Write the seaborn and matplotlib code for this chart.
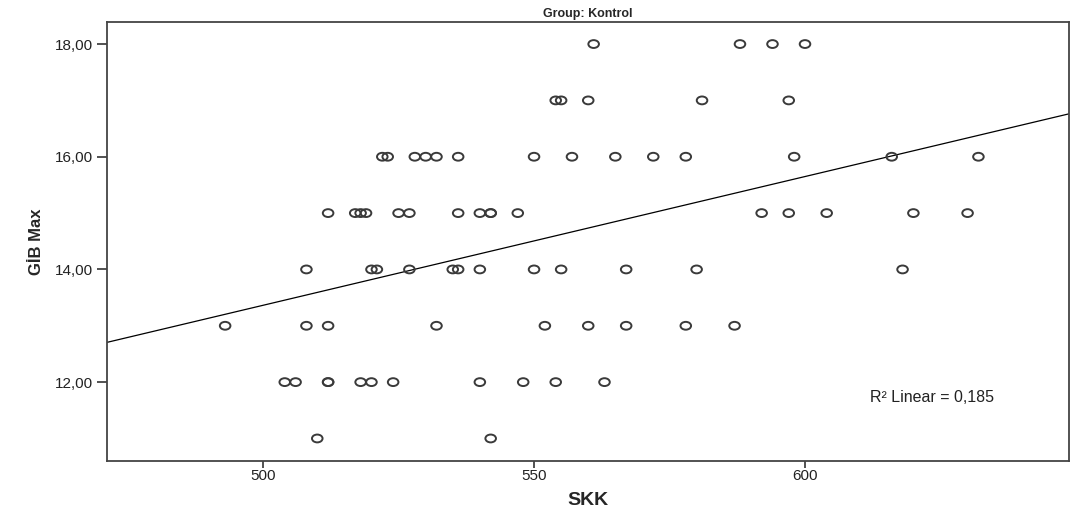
import numpy as np
import pandas as pd
import matplotlib
matplotlib.use("Agg")
import matplotlib.pyplot as plt
import seaborn as sns
from matplotlib.path import Path
from matplotlib.transforms import Affine2D
from matplotlib.ticker import FuncFormatter

# SKK values grouped by their GiB Max level
skk_18 = [561, 588, 594, 600]
skk_17 = [554, 555, 560, 581, 597]
skk_16 = [522, 523, 528, 530, 532, 536, 550, 557, 565, 572, 578, 598, 616, 632]
skk_15 = [512, 517, 518, 519, 525, 527, 536, 540, 542, 542, 547, 592, 597, 604, 620, 630]
skk_14 = [508, 520, 521, 527, 535, 536, 540, 550, 555, 567, 580, 618]
skk_13 = [493, 508, 512, 532, 552, 560, 567, 578, 587]
skk_12 = [504, 506, 512, 512, 518, 520, 524, 540, 548, 554, 563]
skk_11 = [510, 542]

levels = [18, 17, 16, 15, 14, 13, 12, 11]
groups = [skk_18, skk_17, skk_16, skk_15, skk_14, skk_13, skk_12, skk_11]

skk = []
gib = []
for lv, g in zip(levels, groups):
    skk += g
    gib += [lv] * len(g)
df = pd.DataFrame({"SKK": skk, "GiB Max": gib})

x_ticks = [500, 550, 600]
y_ticks = [12, 14, 16, 18]
r2_text = "R² Linear = 0,185"

sns.set_style("white")
plt.rcParams["font.family"] = ["Liberation Sans", "DejaVu Sans"]

fig = plt.figure(figsize=(10.70, 5.17), dpi=100)
ax = fig.add_axes([0.100, 0.1083, 0.899, 0.849])
ax.set_xlim(471.2, 648.7)
ax.set_ylim(10.6, 18.39)

# slightly wide open circle, like the original
ellipse = Path.unit_circle().transformed(Affine2D().scale(1.35, 1.0))

sns.scatterplot(data=df, x="SKK", y="GiB Max", ax=ax, marker=ellipse, s=58,
                facecolor="none", edgecolor="#3a3a3a", linewidth=1.4, zorder=3)
sns.regplot(data=df, x="SKK", y="GiB Max", ax=ax, scatter=False, ci=None,
            truncate=False, line_kws={"color": "black", "lw": 0.9})

ax.set_xlim(471.2, 648.7)
ax.set_ylim(10.6, 18.39)
ax.set_xticks(x_ticks)
ax.set_yticks(y_ticks)
ax.yaxis.set_major_formatter(FuncFormatter(lambda v, p: f"{v:.2f}".replace(".", ",")))
ax.tick_params(axis="both", direction="out", width=1.2, color="#333333",
               labelsize=11, labelcolor="#222222", left=True, bottom=True)
ax.tick_params(axis="y", length=7, pad=3)
ax.tick_params(axis="x", length=5, pad=1)

for s in ax.spines.values():
    s.set_color("#444444")
    s.set_linewidth(1.3)

ax.set_xlabel("SKK", fontsize=14, fontweight="bold", labelpad=6)
ax.set_ylabel("GİB Max", fontsize=12, fontweight="bold", labelpad=8)
ax.set_title("Group: Kontrol", fontsize=9, fontweight="bold", pad=4)

ax.text(612, 11.72, r2_text, fontsize=11.5, ha="left", va="center", color="#222222")

fig.savefig("out.png", dpi=100)
